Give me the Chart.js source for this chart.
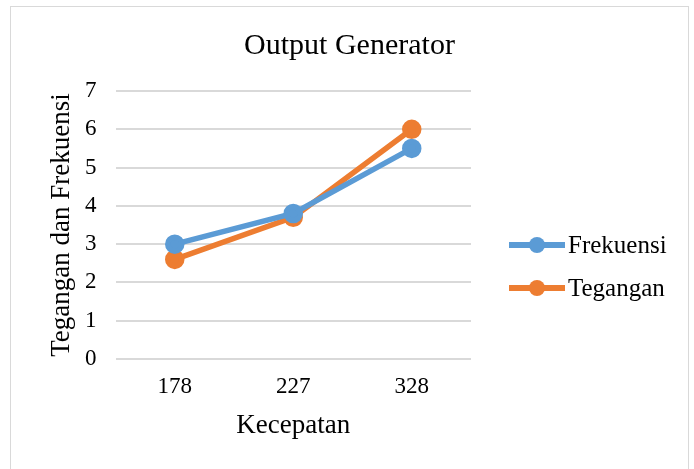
<!DOCTYPE html>
<html>
<head>
<meta charset="utf-8">
<script src="https://cdn.jsdelivr.net/npm/chart.js@4"></script>
<style>
  body { margin: 0; background: #fff; }
  #wrap { position: absolute; left: 10px; top: 6px; width: 679px; height: 470px; border: 1px solid #d9d9d9; box-sizing: border-box; }
  #title { position: absolute; left: 0; right: 0; top: 20px; text-align: center; font-family: "Liberation Serif", serif; font-size: 30px; color: #000; }
  #legend { position: absolute; left: 498px; top: 222px; font-family: "Liberation Serif", serif; font-size: 25px; color: #000; }
  .item { position: relative; height: 43px; padding-left: 59px; line-height: 32px; }
  .item .ln { position: absolute; left: 0; top: 13px; width: 56px; height: 6px; }
  .item .dot { position: absolute; left: 20px; top: 8px; width: 16px; height: 16px; border-radius: 50%; }
</style>
</head>
<body>
<div id="wrap">
  <canvas id="chart"></canvas>
  <div id="title">Output Generator</div>
  <div id="legend"></div>
</div>
<script>
const categories = ["178", "227", "328"];
const frekuensi = [3, 3.8, 5.5];
const tegangan = [2.6, 3.7, 6];
const seriesNames = ["Frekuensi", "Tegangan"];
const colors = ["#5B9BD5", "#ED7D31"];

document.addEventListener("DOMContentLoaded", () => {
  const font = "'Liberation Serif', 'Times New Roman', serif";
  const canvas = document.getElementById("chart");
  canvas.width = 677; canvas.height = 468;

  const ds = [frekuensi, tegangan].map((d, i) => ({
    label: seriesNames[i],
    data: d,
    borderColor: colors[i],
    backgroundColor: colors[i],
    borderWidth: 5.5,
    pointRadius: 7,
    pointHoverRadius: 7,
    tension: 0
  }));

  new Chart(canvas.getContext("2d"), {
    type: "line",
    data: { labels: categories, datasets: ds },
    options: {
      responsive: false,
      animation: false,
      layout: { padding: { left: 37, right: 217, top: 84, bottom: 33 } },
      plugins: {
        legend: { display: false },
        tooltip: { enabled: false }
      },
      scales: {
        x: {
          offset: true,
          grid: { display: false },
          border: { display: false },
          ticks: { color: "#000", font: { family: font, size: 23 }, padding: 6 },
          title: { display: true, text: "Kecepatan", color: "#000", font: { family: font, size: 27 }, padding: { top: 3, bottom: 0 } }
        },
        y: {
          min: 0, max: 7,
          ticks: { stepSize: 1, color: "#000", font: { family: font, size: 23 }, padding: 19 },
          grid: { color: "#d9d9d9", lineWidth: 2, drawTicks: false },
          border: { display: false },
          title: { display: true, text: "Tegangan dan Frekuensi", color: "#000", font: { family: font, size: 27, lineHeight: 1 }, padding: { top: 0, bottom: -9 } }
        }
      }
    }
  });

  const legend = document.getElementById("legend");
  seriesNames.forEach((n, i) => {
    const it = document.createElement("div");
    it.className = "item";
    it.innerHTML = `<span class="ln" style="background:${colors[i]}"></span><span class="dot" style="background:${colors[i]}"></span>${n}`;
    legend.appendChild(it);
  });
});
</script>
</body>
</html>
